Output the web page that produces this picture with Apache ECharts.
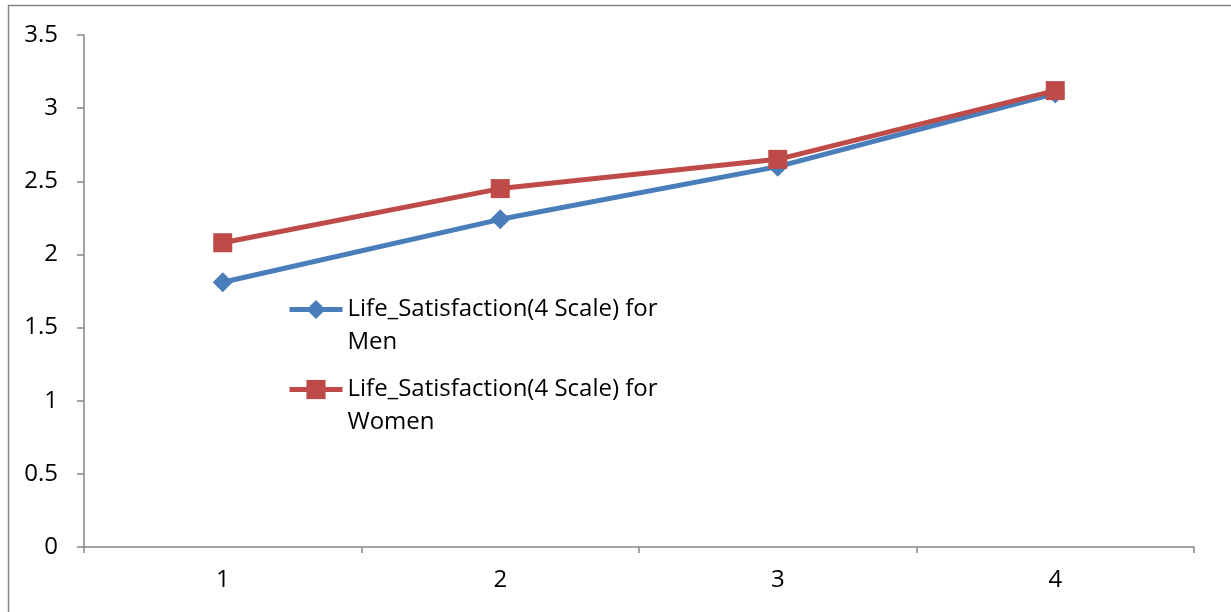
<!DOCTYPE html>
<html><head><meta charset="utf-8">
<script src="https://cdn.jsdelivr.net/npm/echarts@6/dist/echarts.min.js"></script>
<style>html,body{margin:0;padding:0;background:#fff}#c{width:1231px;height:612px}</style>
</head><body><div id="c"></div>
<script>
const categories = ['1', '2', '3', '4'];
const menValues = [1.81, 2.24, 2.60, 3.10];
const womenValues = [2.08, 2.45, 2.65, 3.12];
const seriesNames = ['Life_Satisfaction(4 Scale) for Men', 'Life_Satisfaction(4 Scale) for Women'];
const legendLines = {
  'Life_Satisfaction(4 Scale) for Men': 'Life_Satisfaction(4 Scale) for\nMen',
  'Life_Satisfaction(4 Scale) for Women': 'Life_Satisfaction(4 Scale) for\nWomen'
};
const FONT = 'Open Sans';
const chart = echarts.init(document.getElementById('c'), null, {renderer: 'canvas'});
chart.setOption({
  backgroundColor: '#fff',
  animation: false,
  graphic: [{type: 'rect', shape: {x: 8.5, y: 5.5, width: 1300, height: 700}, style: {fill: 'none', stroke: '#868686', lineWidth: 1.5}, silent: true}],
  grid: {left: 84, right: 37, top: 35, bottom: 65},
  legend: {
    orient: 'vertical', left: 287, top: 260, padding: 0, itemGap: -19,
    itemWidth: 53, itemHeight: 24,
    data: seriesNames.map(n => ({name: n, lineStyle: {width: 5}})),
    formatter: n => '\n' + legendLines[n],
    textStyle: {fontFamily: FONT, fontSize: 24, color: '#000', lineHeight: 33}
  },
  xAxis: {
    type: 'category', data: categories, boundaryGap: true,
    axisLine: {lineStyle: {color: '#868686', width: 1.5}},
    axisTick: {show: true, length: 6, inside: false, lineStyle: {color: '#868686', width: 1.5}},
    axisLabel: {fontFamily: FONT, fontSize: 24, color: '#000', margin: 21}
  },
  yAxis: {
    type: 'value', min: 0, max: 3.5, interval: 0.5,
    splitLine: {show: false},
    axisLine: {show: true, lineStyle: {color: '#868686', width: 1.5}},
    axisTick: {show: true, length: 7, lineStyle: {color: '#868686', width: 1.5}},
    axisLabel: {fontFamily: FONT, fontSize: 24, color: '#000', margin: 26}
  },
  series: [
    {name: seriesNames[0], type: 'line', data: menValues, symbol: 'diamond', symbolSize: 20,
     lineStyle: {color: '#4A7EBB', width: 5}, itemStyle: {color: '#4A7EBB'}, z: 2},
    {name: seriesNames[1], type: 'line', data: womenValues, symbol: 'rect', symbolSize: 19,
     lineStyle: {color: '#BE4B48', width: 5}, itemStyle: {color: '#BE4B48'}, z: 3}
  ]
});
</script></body></html>
